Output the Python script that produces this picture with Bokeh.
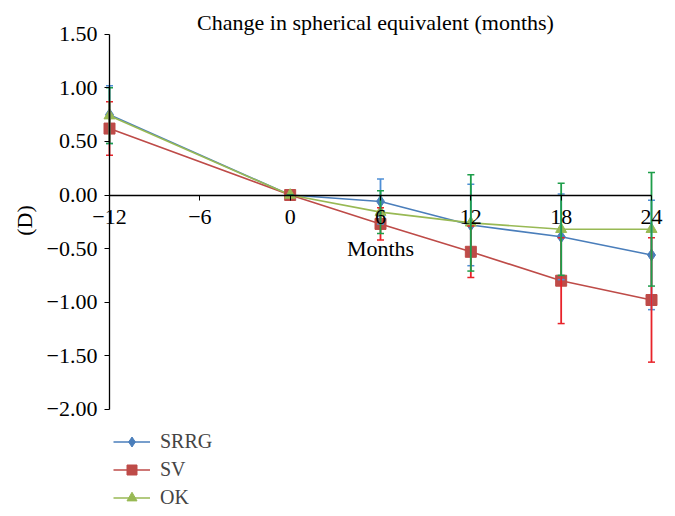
from bokeh.plotting import figure
from bokeh.models import (ColumnDataSource, Whisker, TeeHead, FixedTicker, CustomJSTickFormatter,
                          Legend, LegendItem, Label, Range1d)
from bokeh.embed import file_html
from bokeh.resources import INLINE

# ---- data ----
months = [-12, 0, 6, 12, 18, 24]
srrg = [0.75, 0.00, -0.06, -0.28, -0.39, -0.56]
srrg_err = [0.27, 0.00, 0.21, 0.38, 0.40, 0.51]
sv = [0.62, 0.00, -0.27, -0.53, -0.80, -0.98]
sv_err = [0.25, 0.00, 0.15, 0.24, 0.40, 0.58]
ok = [0.74, 0.00, -0.16, -0.26, -0.32, -0.32]
ok_err = [0.26, 0.00, 0.20, 0.45, 0.43, 0.53]
series_names = ["SRRG", "SV", "OK"]
x_ticks = [-12, -6, 0, 6, 12, 18, 24]
y_ticks = [1.5, 1.0, 0.5, 0.0, -0.5, -1.0, -1.5, -2.0]
title_text = "Change in spherical equivalent (months)"
x_title = "Months"
y_title = "(D)"

FONT = "Liberation Serif"
W, H = 675, 516
# frame covers the whole canvas; ranges chosen so the plot area sits where the reference has it
px_per_month = 542.0 / (x_ticks[-1] - x_ticks[0])
px_per_unit = 375.0 / (max(y_ticks) - min(y_ticks))
x0_px, y0_px = 109.0, 194.5   # screen position of x=-12 and y=0
x_start = x_ticks[0] - x0_px / px_per_month
x_end = x_start + W / px_per_month
y_end = y0_px / px_per_unit
y_start = y_end - H / px_per_unit

p = figure(width=W, height=H, output_backend="svg", toolbar_location=None,
           x_range=Range1d(x_start, x_end), y_range=Range1d(y_start, y_end),
           min_border=0)
p.outline_line_color = None
p.background_fill_color = "white"
p.border_fill_color = "white"
p.xgrid.visible = False
p.ygrid.visible = False

xa = p.xaxis[0]
xa.fixed_location = 0
xa.bounds = (x_ticks[0], x_ticks[-1])
xa.ticker = FixedTicker(ticks=x_ticks)
xa.formatter = CustomJSTickFormatter(code="return (tick < 0 ? '\u2212' : '') + Math.abs(tick).toString();")
xa.major_tick_out = 5
xa.major_tick_in = 0
xa.minor_tick_out = 0
xa.minor_tick_in = 0
xa.axis_line_color = "black"
xa.axis_line_width = 1.3
xa.major_label_standoff = 10
xa.major_label_text_font = FONT
xa.major_label_text_font_size = "22px"
xa.major_label_text_color = "black"
xa.axis_label = x_title
xa.axis_label_text_font = FONT
xa.axis_label_text_font_size = "22px"
xa.axis_label_text_font_style = "normal"
xa.axis_label_text_color = "black"
xa.axis_label_standoff = 8

ya = p.yaxis[0]
ya.fixed_location = x_ticks[0]
ya.bounds = (min(y_ticks), max(y_ticks))
ya.ticker = FixedTicker(ticks=y_ticks)
ya.formatter = CustomJSTickFormatter(code="return (tick < 0 ? '\u2212' : '') + Math.abs(tick).toFixed(2);")
ya.major_tick_out = 5
ya.major_tick_in = 0
ya.minor_tick_out = 0
ya.minor_tick_in = 0
ya.axis_line_width = 1.3
ya.major_label_standoff = 7
ya.major_label_text_font = FONT
ya.major_label_text_font_size = "22px"
ya.major_label_text_color = "black"

line_colors = ["#4A7EBB", "#BE4B48", "#98B954"]
err_colors = ["#4F8FD6", "#E8232A", "#1E9E4A"]
markers = ["diamond", "square", "triangle"]
msizes = [12, 11, 11]
vals = [srrg, sv, ok]
errs = [srrg_err, sv_err, ok_err]

sources = []
for v, e in zip(vals, errs):
    sources.append(ColumnDataSource(dict(
        x=months, y=v,
        upper=[a + b for a, b in zip(v, e)],
        lower=[a - b for a, b in zip(v, e)])))

line_rs = []
for src, c in zip(sources, line_colors):
    line_rs.append(p.line("x", "y", source=src, line_color=c, line_width=1.6))

for src, c in zip(sources, err_colors):
    w = Whisker(base="x", upper="upper", lower="lower", source=src, level="glyph",
                line_color=c, line_width=1.8,
                upper_head=TeeHead(size=7, line_color=c, line_width=1.5),
                lower_head=TeeHead(size=7, line_color=c, line_width=1.5))
    p.add_layout(w)

mark_rs = []
for src, c, m, s in zip(sources, line_colors, markers, msizes):
    mark_rs.append(p.scatter("x", "y", source=src, marker=m, size=s,
                             fill_color=c, line_color=c))

items = [LegendItem(label=n, renderers=[lr, mr]) for n, lr, mr in zip(series_names, line_rs, mark_rs)]
legend = Legend(items=items, location=(113, 6), orientation="vertical",
                padding=0, margin=0, spacing=3, glyph_width=37, glyph_height=25,
                label_height=25, label_standoff=10, border_line_color=None,
                background_fill_alpha=0, label_text_font=FONT, label_text_font_size="20px",
                label_text_baseline="middle")
p.add_layout(legend, "center")

p.add_layout(Label(x=375, y=H - 22, x_units="screen", y_units="screen", text=title_text,
                   text_font=FONT, text_font_size="22px", text_align="center",
                   text_baseline="middle", text_color="black"))
p.add_layout(Label(x=24, y=H - 220, x_units="screen", y_units="screen", text=y_title, angle=1.5708,
                   text_font=FONT, text_font_size="22px", text_align="center",
                   text_baseline="middle", text_color="black"))

open("out.html", "w").write(file_html(p, INLINE))
